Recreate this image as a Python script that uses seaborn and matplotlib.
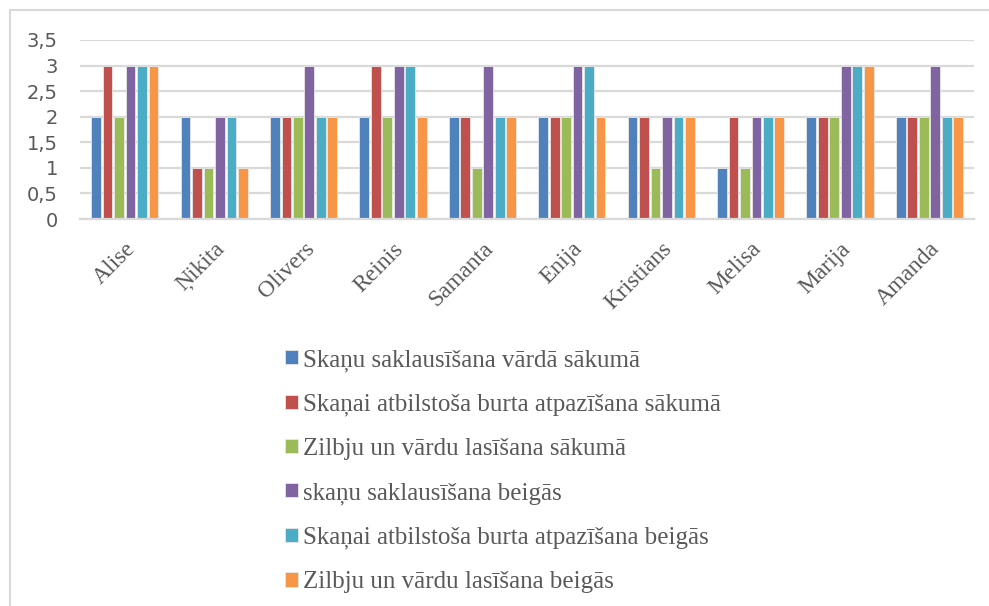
"""
Skaņu un lasīšanas prasmju salīdzinājums: sākumā un beigās.
"""

import numpy as np
import pandas as pd
import matplotlib
matplotlib.use("Agg")
import matplotlib.pyplot as plt
from matplotlib.lines import Line2D
from matplotlib.ticker import FuncFormatter
import seaborn as sns

# Dati
skoleni = ["Alise", "Ņikita", "Olivers", "Reinis", "Samanta",
           "Enija", "Kristians", "Melisa", "Marija", "Amanda"]
serijas = [
    "Skaņu saklausīšana vārdā sākumā",
    "Skaņai atbilstoša burta atpazīšana sākumā",
    "Zilbju un vārdu lasīšana sākumā",
    "skaņu saklausīšana beigās",
    "Skaņai atbilstoša burta atpazīšana beigās",
    "Zilbju un vārdu lasīšana beigās",
]
skanu_sakums = [2, 2, 2, 2, 2, 2, 2, 1, 2, 2]
burti_sakums = [3, 1, 2, 3, 2, 2, 2, 2, 2, 2]
lasisana_sakums = [2, 1, 2, 2, 1, 2, 1, 1, 2, 2]
skanu_beigas = [3, 2, 3, 3, 3, 3, 2, 2, 3, 3]
burti_beigas = [3, 2, 2, 3, 2, 3, 2, 2, 3, 2]
lasisana_beigas = [3, 1, 2, 2, 2, 2, 2, 2, 3, 2]
krasas = ["#4F81BD", "#C0504D", "#9BBB59", "#8064A2", "#4BACC6", "#F79646"]

# Stils
sns.set_theme(style="white")
plt.rcParams["font.family"] = ["Liberation Serif", "DejaVu Serif"]
teksts = "#595959"

vertibas = [skanu_sakums, burti_sakums, lasisana_sakums,
            skanu_beigas, burti_beigas, lasisana_beigas]
df = pd.DataFrame({
    "skolens": np.tile(skoleni, len(serijas)),
    "serija": np.repeat(serijas, len(skoleni)),
    "vertiba": np.concatenate(vertibas),
})

fig = plt.figure(figsize=(9.89, 6.06), dpi=100)
ax = fig.add_axes([0.081, 0.6386, 0.904, 0.2954])

sns.barplot(data=df, x="skolens", y="vertiba", hue="serija",
            order=skoleni, hue_order=serijas, palette=krasas, saturation=1,
            width=0.77, gap=0.15, edgecolor="#e8e8e8", linewidth=0.6,
            ax=ax)

ax.set_ylim(0, 3.5)
ax.set_yticks(np.arange(0, 3.51, 0.5))
ax.yaxis.set_major_formatter(FuncFormatter(lambda v, _: f"{v:g}".replace(".", ",")))
ax.yaxis.grid(True, color="#D9D9D9", lw=1.6)
ax.set_axisbelow(True)
for s in ["top", "right", "left"]:
    ax.spines[s].set_visible(False)
ax.spines["bottom"].set_color("#D9D9D9")
ax.spines["bottom"].set_linewidth(1.6)
ax.set_xlabel("")
ax.set_ylabel("")
ax.tick_params(axis="y", length=0, pad=16, labelcolor=teksts)
ax.tick_params(axis="x", length=0, pad=14, labelsize=17, labelcolor=teksts)
for lbl in ax.get_yticklabels():
    lbl.set_fontfamily(["DejaVu Sans"])
    lbl.set_fontsize(14)
plt.setp(ax.get_xticklabels(), rotation=45, ha="right", rotation_mode="anchor")

# Leģenda zem grafika
handles, labels = ax.get_legend_handles_labels()
ax.get_legend().remove()
fig.legend(handles, labels, loc="upper left", bbox_to_anchor=(0.288, 0.424),
           frameon=False, fontsize=18, labelcolor=teksts,
           handlelength=0.52, handleheight=0.5, handletextpad=0.22,
           labelspacing=0.88, borderpad=0, borderaxespad=0)

# Rāmis ap diagrammu
fig.add_artist(Line2D([10 / 989, 10 / 989], [0, 1 - 10 / 606], color="#D9D9D9", lw=1.5))
fig.add_artist(Line2D([10 / 989, 1], [1 - 10 / 606, 1 - 10 / 606], color="#D9D9D9", lw=1.5))

fig.savefig("out.png", dpi=100)
plt.close(fig)
